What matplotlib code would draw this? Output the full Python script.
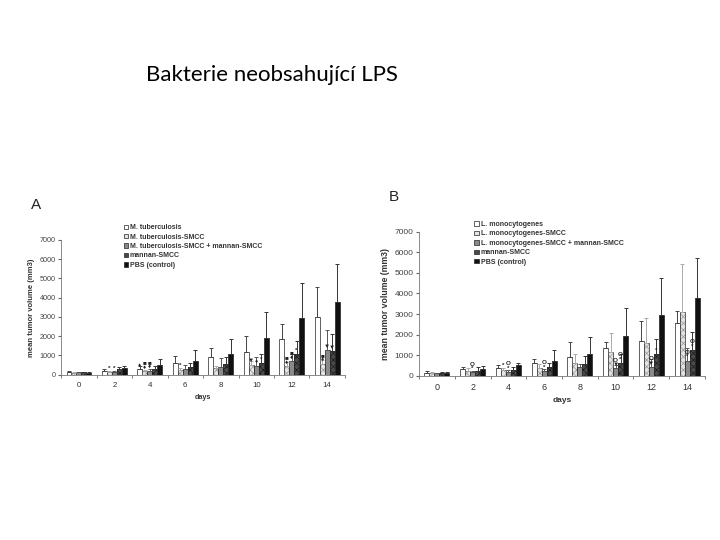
import matplotlib.pyplot as plt
import numpy as np

days = [0, 2, 4, 6, 8, 10, 12, 14]

labels_a = ["M. tuberculosis", "M. tuberculosis-SMCC", "M. tuberculosis-SMCC + mannan-SMCC",
            "mannan-SMCC", "PBS (control)"]
labels_b = ["L. monocytogenes", "L. monocytogenes-SMCC", "L. monocytogenes-SMCC + mannan-SMCC",
            "mannan-SMCC", "PBS (control)"]

# panel A means / errors
a_mean = [
    [130, 220, 320, 600, 900, 1200, 1850, 2970],
    [110, 130, 180, 270, 330, 530, 450, 580],
    [120, 150, 220, 320, 380, 480, 700, 1270],
    [120, 280, 280, 380, 580, 620, 1070, 1250],
    [110, 350, 500, 720, 1070, 1930, 2950, 3750],
]
a_err = [
    [60, 60, 120, 350, 500, 800, 800, 1600],
    [40, 60, 60, 80, 120, 200, 200, 200],
    [40, 60, 80, 200, 500, 450, 400, 1050],
    [40, 100, 150, 250, 350, 450, 700, 850],
    [40, 120, 300, 550, 800, 1300, 1800, 2000],
]

# panel B means / errors
b_mean = [
    [130, 330, 380, 620, 930, 1330, 1700, 2550],
    [120, 250, 300, 380, 640, 1150, 1600, 3080],
    [120, 170, 200, 230, 420, 360, 420, 740],
    [130, 250, 270, 420, 560, 620, 1060, 1250],
    [140, 350, 530, 720, 1070, 1920, 2970, 3770],
]
b_err = [
    [90, 100, 150, 200, 700, 300, 950, 580],
    [60, 150, 100, 200, 400, 950, 1200, 2350],
    [40, 80, 100, 80, 150, 150, 380, 600],
    [40, 200, 150, 200, 400, 450, 750, 900],
    [40, 120, 80, 550, 800, 1350, 1800, 1950],
]

# significance marks: (day index, series index, text)
a_marks = [(1, 1, "*"), (1, 2, "*"), (2, 0, "♦"), (2, 1, "■\n♦"), (2, 2, "■\n♦"),
           (3, 1, "*"), (5, 1, "▼"), (5, 2, "♦"), (5, 3, "*"),
           (6, 1, "■\n♦"), (6, 2, "■\n♦"), (6, 3, "*"), (7, 1, "■\n♦"), (7, 2, "▼"), (7, 3, "▼")]
b_marks = [(1, 2, "O\n*"), (2, 1, "*"), (2, 2, "O\n*"), (3, 2, "O\n*"),
           (5, 2, "O\n▼"), (5, 3, "O\n*"), (6, 2, "O\n▼"), (6, 3, "*"),
           (7, 2, "O\n*"), (7, 3, "O\n*")]

faces = ["white", "#e4e4e4", "#8a8a8a", "#4a4a4a", "#111111"]
hatches = [None, "xxxxx", None, "xxxxx", None]
hatchcol = ["#000000", "#9a9a9a", "#000000", "#1a1a1a", "#000000"]
errcol = ["#444444", "#aaaaaa", "#555555", "#333333", "#333333"]

plt.rcParams['font.family'] = ['Liberation Sans', 'DejaVu Sans']
plt.rcParams['hatch.linewidth'] = 0.5

fig = plt.figure(figsize=(7.2, 5.4), dpi=100)
fig.text(0.203, 0.861, "Bakterie neobsahující LPS", fontsize=16, va="center", ha="left",
         family=['Lato', 'DejaVu Sans'])


def panel(rect, means, errs, labels, marks, letter, lpos, fs):
    ax = fig.add_axes(rect)
    x = np.arange(len(days))
    w = 0.14
    for i in range(5):
        xs = x + (i - 2) * w
        if hatches[i]:
            ax.bar(xs, means[i], w, color=faces[i], edgecolor=hatchcol[i], linewidth=0,
                   hatch=hatches[i], zorder=2)
            ax.bar(xs, means[i], w, color="none", edgecolor="#222222", linewidth=0.5, zorder=2)
        else:
            ax.bar(xs, means[i], w, color=faces[i], edgecolor="#222222", linewidth=0.5, zorder=2)
        ax.errorbar(xs, means[i], yerr=[np.zeros(len(days)), errs[i]], fmt="none",
                    ecolor=errcol[i], elinewidth=0.7, capsize=1.5, capthick=0.7, zorder=3)
    for d, s, t in marks:
        ax.text(d + (s - 2) * w, means[s][d] + 60, t, ha="center", va="bottom",
                fontsize=4.5, linespacing=0.9, color="#222222", fontweight="bold")
    ax.set_xlim(-0.5, len(days) - 0.5)
    ax.set_ylim(0, 7000)
    ax.set_yticks(np.arange(0, 7001, 1000))
    ax.set_xticks(x)
    ax.set_xticklabels([str(d) for d in days])
    ax.set_xticks(np.arange(-0.5, len(days)), minor=True)
    ax.tick_params(axis="x", which="major", length=0, labelsize=fs + 0.5, colors="#333333", pad=5)
    ax.tick_params(axis="x", which="minor", length=2, color="#666666")
    ax.tick_params(axis="y", length=2, labelsize=fs, colors="#444444", pad=2, color="#666666")
    for sp in ["top", "right"]:
        ax.spines[sp].set_visible(False)
    for sp in ["left", "bottom"]:
        ax.spines[sp].set_color("#777777")
        ax.spines[sp].set_linewidth(0.6)
    ax.set_xlabel("days", fontsize=fs, fontweight="bold", color="#333333", labelpad=4)
    ax.set_ylabel("mean tumor volume (mm3)", fontsize=fs + 0.3, fontweight="bold",
                  color="#333333", labelpad=3)
    handles = []
    for i in range(5):
        handles.append(plt.Rectangle((0, 0), 1, 1, facecolor=faces[i], edgecolor="#222222",
                                     linewidth=0.5))
    leg = fig.legend(handles, labels, loc="upper left", bbox_to_anchor=lpos, frameon=False,
                     fontsize=5, handlelength=0.6, handleheight=0.6, handletextpad=0.3,
                     labelspacing=0.35, borderaxespad=0)
    for t in leg.get_texts():
        t.set_fontweight("bold")
        t.set_color("#333333")
    fig.text(rect[0] - 0.035, rect[1] + rect[3] + 0.065, letter, fontsize=11, ha="center",
             va="center", color="#222222")
    return ax


panel([0.085, 0.306, 0.394, 0.25], a_mean, a_err, labels_a, a_marks, "A", (0.168, 0.590), 5.2)
panel([0.582, 0.304, 0.397, 0.267], b_mean, b_err, labels_b, b_marks, "B", (0.655, 0.596), 6)

fig.savefig("out.png", dpi=100)
